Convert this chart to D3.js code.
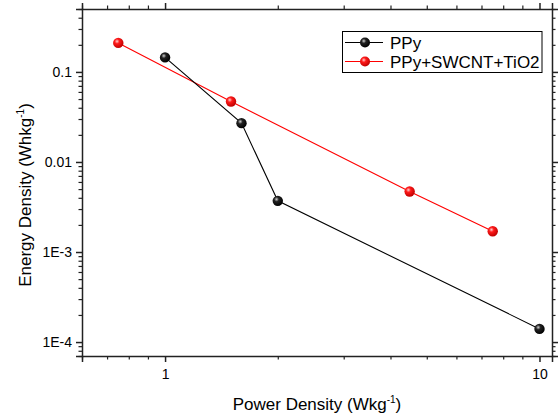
<!DOCTYPE html>
<html><head><meta charset="utf-8">
<script src="https://cdn.jsdelivr.net/npm/d3@7"></script>
<style>body{margin:0;background:#fff}svg{display:block}text{font-family:Arial,"Liberation Sans",sans-serif;fill:#000}</style>
</head><body><svg id="c" width="558" height="415"></svg>
<script>
const seriesNames = ["PPy", "PPy+SWCNT+TiO2"];
const ppyX = [1, 1.6, 2, 10];
const ppyY = [0.145, 0.027, 0.0037, 0.00014];
const compX = [0.75, 1.5, 4.5, 7.5];
const compY = [0.21, 0.047, 0.0047, 0.0017];
const xMajor = [1, 10];
const xMajorLabels = ["1", "10"];
const xMinor = [0.6, 0.7, 0.8, 0.9, 2, 3, 4, 5, 6, 7, 8, 9];
const yMajor = [1e-4, 1e-3, 0.01, 0.1];
const yMajorLabels = ["1E-4", "1E-3", "0.01", "0.1"];
const yMinor = [7e-5, 8e-5, 9e-5, 2e-4, 3e-4, 4e-4, 5e-4, 6e-4, 7e-4, 8e-4, 9e-4,
  0.002, 0.003, 0.004, 0.005, 0.006, 0.007, 0.008, 0.009,
  0.02, 0.03, 0.04, 0.05, 0.06, 0.07, 0.08, 0.09, 0.2, 0.3, 0.4, 0.5];

const L = 82, R = 552, T = 9, B = 356;
const svg = d3.select("#c");
const x = d3.scaleLog().domain([0.6, 10.8]).range([L, R]);
const y = d3.scaleLog().domain([7e-5, 0.5]).range([B, T]);

const defs = svg.append("defs");
function grad(id, hi, mid, lo) {
  const g = defs.append("radialGradient").attr("id", id).attr("cx", "38%").attr("cy", "35%").attr("r", "65%");
  g.append("stop").attr("offset", "0%").attr("stop-color", hi);
  g.append("stop").attr("offset", "35%").attr("stop-color", mid);
  g.append("stop").attr("offset", "100%").attr("stop-color", lo);
}
grad("gk", "#d0d0d0", "#222", "#000");
grad("gr", "#ffd0d0", "#ff1a1a", "#c00000");

const axColor = "#222";
function axisG(axis, tr, major, labels, minor, pad) {
  const gMaj = svg.append("g").attr("transform", tr)
    .call(axis.tickValues(major).tickSize(6).tickPadding(pad)
      .tickFormat((d, i) => labels ? labels[i] : ""));
  gMaj.select(".domain").attr("stroke", axColor).attr("stroke-width", 1.5);
  gMaj.selectAll(".tick line").attr("stroke", axColor).attr("stroke-width", 1.5);
  gMaj.selectAll(".tick text").style("font-size", "14px").attr("fill", "#000");
  const gMin = svg.append("g").attr("transform", tr)
    .call(axis.tickValues(minor).tickSize(3.5).tickFormat(""));
  gMin.select(".domain").remove();
  gMin.selectAll(".tick line").attr("stroke", axColor).attr("stroke-width", 1.2);
}
axisG(d3.axisBottom(x), `translate(0,${B})`, xMajor, xMajorLabels, xMinor, 7);
axisG(d3.axisTop(x), `translate(0,${T})`, xMajor, null, xMinor, 0);
axisG(d3.axisLeft(y), `translate(${L},0)`, yMajor, yMajorLabels, yMinor, 4);
axisG(d3.axisRight(y), `translate(${R},0)`, yMajor, null, yMinor, 0);

const line = d3.line().x(d => x(d[0])).y(d => y(d[1]));
const ppy = ppyX.map((v, i) => [v, ppyY[i]]);
const comp = compX.map((v, i) => [v, compY[i]]);
svg.append("path").datum(comp).attr("d", line).attr("fill", "none").attr("stroke", "#ff0000").attr("stroke-width", 1.1);
svg.append("path").datum(ppy).attr("d", line).attr("fill", "none").attr("stroke", "#000").attr("stroke-width", 1.1);
svg.append("g").selectAll("circle").data(comp).join("circle")
  .attr("cx", d => x(d[0])).attr("cy", d => y(d[1])).attr("r", 5.2).attr("fill", "url(#gr)");
svg.append("g").selectAll("circle").data(ppy).join("circle")
  .attr("cx", d => x(d[0])).attr("cy", d => y(d[1])).attr("r", 5.2).attr("fill", "url(#gk)");

const xt = svg.append("text").attr("x", (L + R) / 2).attr("y", 410).attr("text-anchor", "middle").style("font-size", "17px");
xt.append("tspan").text("Power Density (Wkg");
xt.append("tspan").attr("dy", -7).style("font-size", "10px").text("-1");
xt.append("tspan").attr("dy", 7).text(")");

const yt = svg.append("text").attr("transform", `translate(31,195) rotate(-90)`).attr("text-anchor", "middle").style("font-size", "17px");
yt.append("tspan").text("Energy Density (Whkg");
yt.append("tspan").attr("dy", -7).style("font-size", "10px").text("-1");
yt.append("tspan").attr("dy", 7).text(")");

const lg = svg.append("g");
lg.append("rect").attr("x", 342.5).attr("y", 31.5).attr("width", 199.5).attr("height", 41)
  .attr("fill", "#fff").attr("stroke", "#000").attr("stroke-width", 1);
const legRows = [{name: seriesNames[0], c: "#000", g: "url(#gk)", cy: 42.5},
                 {name: seriesNames[1], c: "#ff0000", g: "url(#gr)", cy: 61.5}];
legRows.forEach(r => {
  lg.append("line").attr("x1", 345).attr("x2", 383).attr("y1", r.cy).attr("y2", r.cy).attr("stroke", r.c).attr("stroke-width", 1.1);
  lg.append("circle").attr("cx", 365).attr("cy", r.cy).attr("r", 5).attr("fill", r.g);
  lg.append("text").attr("x", 390).attr("y", r.cy + 6).style("font-size", "17px").text(r.name);
});
</script></body></html>
